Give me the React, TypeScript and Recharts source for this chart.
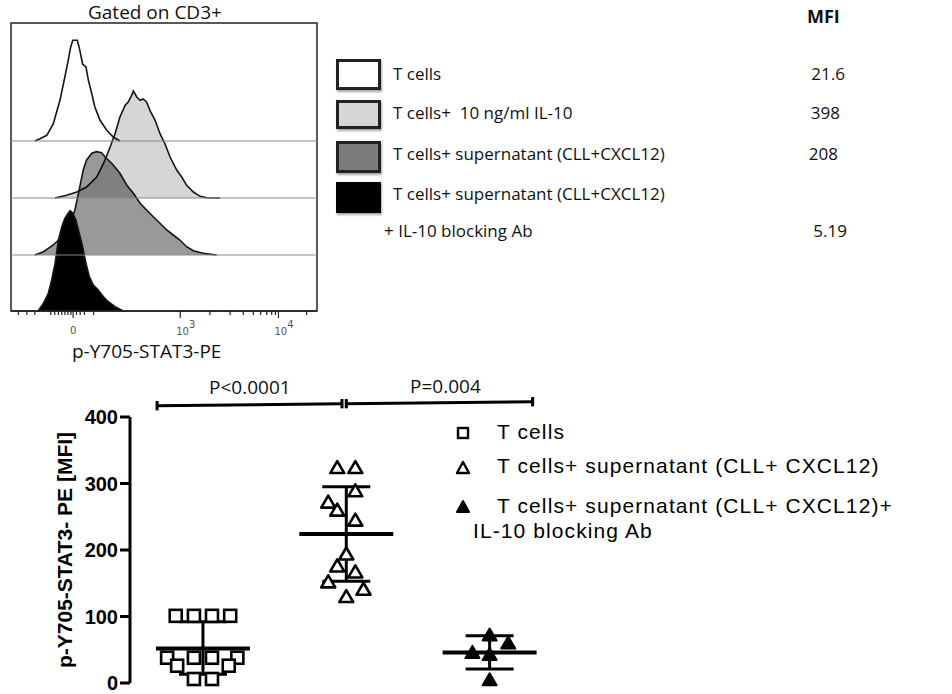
import React from 'react';
import {
  ComposedChart,
  Area,
  XAxis,
  YAxis,
  ReferenceLine,
  ReferenceArea,
  Scatter,
  ErrorBar,
} from 'recharts';

// ---------------- Histogram (top-left) data ----------------
const histTitle = 'Gated on CD3+';
const histAxisLabel = 'p-Y705-STAT3-PE';

// display channel (0..1000, biexponential scale) and relative event counts
const tCellsHistX = [78, 95, 117, 138, 160, 176, 187, 195, 202, 217, 225, 234, 245, 253, 264, 274, 291, 313, 334, 356];
const tCellsHistH = [0, 2.3, 5.7, 17, 40.7, 64, 80.7, 94, 100.7, 100.7, 90.7, 77, 74, 60.7, 47.3, 34, 20.7, 10.7, 4, 0];

const il10HistX = [144, 182, 215, 247, 280, 302, 324, 340, 356, 373, 383, 394, 400, 411, 422, 432, 443, 454, 471, 487, 503, 520, 542, 558, 574, 596, 618, 640, 683];
const il10HistH = [0, 2.7, 6, 11, 21, 34.3, 51, 64.3, 81, 92.7, 96, 102.7, 107, 101, 97.7, 99, 96, 87.7, 77.7, 64.3, 54.3, 41, 27.7, 21, 12.7, 6, 1.7, 0.3, 0];

const supHistX = [78, 106, 138, 166, 193, 209, 225, 236, 247, 264, 280, 296, 307, 318, 334, 356, 378, 400, 422, 443, 465, 487, 509, 530, 552, 574, 596, 628, 672];
const supHistH = [0, 3.3, 10, 18.3, 31.7, 45, 68.3, 85, 95, 101.7, 103.3, 102.3, 98.3, 95, 90, 81.7, 70, 61.7, 51.7, 45, 38.3, 31.7, 25, 20, 15, 8.3, 4.3, 1.7, 0];

const blockHistX = [89, 106, 122, 133, 144, 155, 166, 176, 187, 193, 202, 212, 223, 234, 245, 256, 269, 285, 302, 318, 340, 367];
const blockHistH = [0, 7.7, 17.7, 31, 47.7, 71, 84.3, 92.7, 97.7, 100.3, 97.7, 91, 77.7, 64.3, 47.7, 34.3, 26, 21, 14.3, 9.3, 4.3, 0];

const histMajorTicks = [203, 553, 874];
const histMajorLabels = ['0', '10|3', '10|4'];
const histMinorTicks = [24, 52, 78, 130, 143, 155, 166, 176, 186, 196, 214, 226, 240, 270, 650, 716, 759, 792, 816, 836, 852, 864, 966];

// legend (top right)
const histLegendLabels = [
  'T cells',
  'T cells+  10 ng/ml IL-10',
  'T cells+ supernatant (CLL+CXCL12)',
  'T cells+ supernatant (CLL+CXCL12)',
];
const histLegendExtra = '+ IL-10 blocking Ab';
const mfiTitle = 'MFI';
const mfiValues = ['21.6', '398', '208', '5.19'];

// ---------------- Scatter (bottom) data ----------------
const groupPositions = [1, 2, 3];
const tCellsValues = [101, 101, 101, 101, 38, 38, 38, 38, 26, 26, 6, 6];
const tCellsJitter = [-0.19, -0.063, 0.063, 0.19, -0.25, -0.063, 0.063, 0.24, -0.18, 0.18, -0.063, 0.063];
const supValues = [324, 324, 289, 272, 260, 245, 194, 176, 167, 152, 141, 130];
const supJitter = [-0.063, 0.063, 0.063, -0.126, -0.063, 0.063, 0, -0.063, 0.063, -0.126, 0.12, 0];
const blockValues = [72, 60, 46, 43, 5];
const blockJitter = [0, 0.13, -0.12, 0, 0];

const groupMeans = [52, 224, 46];
const groupSdLow = [13, 153, 21];
const groupSdHigh = [92, 295, 71];

const yTicks = [0, 100, 200, 300, 400];
const yAxisLabel = 'p-Y705-STAT3- PE [MFI]';

const sigLabels = ['P<0.0001', 'P=0.004'];
const sigFrom = [
  { x: 0.68, y: 417 },
  { x: 2.0, y: 420 },
];
const sigTo = [
  { x: 1.97, y: 420 },
  { x: 3.3, y: 423 },
];

const scatterLegend = [
  'T cells',
  'T cells+ supernatant (CLL+ CXCL12)',
  'T cells+ supernatant (CLL+ CXCL12)+',
];
const scatterLegendExtra = 'IL-10 blocking Ab';

// ---------------- build tables ----------------
const histSeries = [
  { key: 'tcells', xs: tCellsHistX, hs: tCellsHistH, base: 170, fill: '#ffffff', op: 1 },
  { key: 'il10', xs: il10HistX, hs: il10HistH, base: 113, fill: '#000000', op: 0.16 },
  { key: 'sup', xs: supHistX, hs: supHistH, base: 56, fill: '#000000', op: 0.4 },
  { key: 'block', xs: blockHistX, hs: blockHistH, base: 0, fill: '#000000', op: 1 },
];
const rowMap = new Map<number, any>();
histSeries.forEach((s) =>
  s.xs.forEach((x, i) => {
    const r = rowMap.get(x) || { u: x };
    r[s.key] = s.base + s.hs[i];
    rowMap.set(x, r);
  })
);
const histRows = Array.from(rowMap.values()).sort((a, b) => a.u - b.u);
const histTicks = [...histMinorTicks, ...histMajorTicks].sort((a, b) => a - b);

const tCellsPts = tCellsValues.map((v, i) => ({ x: groupPositions[0] + tCellsJitter[i], y: v }));
const supPts = supValues.map((v, i) => ({ x: groupPositions[1] + supJitter[i], y: v }));
const blockPts = blockValues.map((v, i) => ({ x: groupPositions[2] + blockJitter[i], y: v }));
const summaryPts = groupMeans.map((m, i) => ({
  x: groupPositions[i],
  y: m,
  err: [m - groupSdLow[i], groupSdHigh[i] - m],
}));

const SANS = '"Open Sans", "DejaVu Sans", sans-serif';
const ARIAL = '"Liberation Sans", Arial, sans-serif';

const HistTick = (props: any) => {
  const { x, y, payload } = props;
  const v = payload.value;
  const mi = histMajorTicks.indexOf(v);
  const major = mi >= 0;
  return (
    <g>
      <line x1={x} x2={x} y1={y} y2={y + (major ? 7 : 4)} stroke="#222" strokeWidth={1.2} />
      {major && histMajorLabels[mi] === '0' && (
        <text x={x} y={y + 23} textAnchor="middle" fontSize={10} fill="#555" fontFamily='"DejaVu Sans", sans-serif'>
          0
        </text>
      )}
      {major && histMajorLabels[mi] !== '0' && (
        <text x={x - 4} y={y + 24} textAnchor="start" fontSize={10} fill="#555" fontFamily='"DejaVu Sans", sans-serif'>
          {histMajorLabels[mi].split('|')[0]}
          <tspan dy={-7} fontSize={10}>
            {histMajorLabels[mi].split('|')[1]}
          </tspan>
        </text>
      )}
    </g>
  );
};

const SquareShape = (p: any) => (
  <rect x={p.cx - 6} y={p.cy - 6} width={12} height={12} fill="#fff" stroke="#000" strokeWidth={2.6} />
);
const OpenTri = (p: any) => (
  <path
    d={`M${p.cx},${p.cy - 6.5} L${p.cx + 7},${p.cy + 5.5} L${p.cx - 7},${p.cy + 5.5} Z`}
    fill="#fff"
    stroke="#000"
    strokeWidth={2.6}
    strokeLinejoin="round"
  />
);
const FilledTri = (p: any) => (
  <path
    d={`M${p.cx},${p.cy - 6.5} L${p.cx + 7},${p.cy + 5.5} L${p.cx - 7},${p.cy + 5.5} Z`}
    fill="#000"
    stroke="#000"
    strokeWidth={2}
    strokeLinejoin="round"
  />
);
const MeanShape = (p: any) => (
  <line x1={p.cx - 47} x2={p.cx + 47} y1={p.cy} y2={p.cy} stroke="#000" strokeWidth={4} />
);

const abs = (left: number, top: number, extra: any = {}) => ({
  position: 'absolute' as const,
  left,
  top,
  whiteSpace: 'pre' as const,
  lineHeight: 1,
  ...extra,
});

export default function App() {
  const legendBoxes = [
    { top: 59, h: 31, bg: '#ffffff', border: '3px solid #222' },
    { top: 100, h: 29, bg: '#d6d6d6', border: '3px solid #222' },
    { top: 141, h: 32, bg: '#7c7c7c', border: '3px solid #222' },
    { top: 182, h: 31, bg: '#000000', border: '3px solid #000' },
  ];
  const legendTextY = [76, 115, 156, 196];
  const mfiRight = [845, 840, 838, 847];
  const mfiY = [76, 115, 156, 233];

  return (
    <div style={{ position: 'absolute', left: 0, top: 0, width: 952, height: 694, background: '#fff', overflow: 'hidden' }}>
      {/* Histogram */}
      <div style={{ position: 'absolute', left: 0, top: 0 }}>
        <ComposedChart width={330} height={360} data={histRows} margin={{ top: 23, right: 13, bottom: 19, left: 11 }}>
          <XAxis
            dataKey="u"
            type="number"
            domain={[0, 1000]}
            ticks={histTicks}
            interval={0}
            tick={<HistTick />}
            tickLine={false}
            tickSize={0}
            tickMargin={0}
            height={30}
            axisLine={{ stroke: '#222', strokeWidth: 1.5 }}
          />
          <YAxis type="number" domain={[0, 288]} hide />
          {[170, 113, 56].map((b) => (
            <ReferenceLine key={b} y={b} stroke="#8a8a8a" strokeWidth={1} />
          ))}
          {histSeries.map((s) => (
            <Area
              key={s.key}
              dataKey={s.key}
              type="linear"
              baseValue={s.base}
              connectNulls
              stroke="#151515"
              strokeWidth={1.6}
              fill={s.fill}
              fillOpacity={s.op}
              dot={false}
              activeDot={false}
              isAnimationActive={false}
            />
          ))}
          <ReferenceArea x1={0} x2={1000} y1={0} y2={288} fill="none" stroke="#222" strokeWidth={1.5} />
        </ComposedChart>
      </div>
      <div style={abs(88, 3, { fontFamily: SANS, fontSize: 19, color: '#111' })}>{histTitle}</div>
      <div style={abs(72, 342, { fontFamily: SANS, fontSize: 19, color: '#111' })}>{histAxisLabel}</div>

      {/* Top-right legend */}
      <div style={abs(807, 7, { fontFamily: SANS, fontSize: 18, fontWeight: 700, color: '#111' })}>{mfiTitle}</div>
      {legendBoxes.map((b, i) => (
        <div
          key={i}
          style={{
            position: 'absolute',
            left: 336,
            top: b.top,
            width: 45,
            height: b.h,
            boxSizing: 'border-box',
            background: b.bg,
            border: b.border,
            boxShadow: '1px 2px 2px rgba(0,0,0,0.35)',
          }}
        />
      ))}
      {histLegendLabels.map((t, i) => (
        <div key={t + i} style={abs(393, legendTextY[i] - 11, { fontFamily: SANS, fontSize: 17, color: '#111' })}>
          {t}
        </div>
      ))}
      <div style={abs(384, 233 - 11, { fontFamily: SANS, fontSize: 17, color: '#111' })}>{histLegendExtra}</div>
      {mfiValues.map((v, i) => (
        <div
          key={v}
          style={{
            position: 'absolute',
            left: mfiRight[i] - 80,
            width: 80,
            textAlign: 'right',
            top: mfiY[i] - 11,
            fontFamily: SANS,
            fontSize: 17,
            lineHeight: 1,
            color: '#111',
          }}
        >
          {v}
        </div>
      ))}

      {/* Scatter dot plot */}
      <div style={{ position: 'absolute', left: 0, top: 370 }}>
        <ComposedChart width={580} height={324} margin={{ top: 47, right: 20, bottom: 11, left: 0 }}>
          <XAxis
            dataKey="x"
            type="number"
            domain={[0.491, 3.491]}
            allowDataOverflow
            tick={false}
            tickLine={false}
            height={0}
            axisLine={{ stroke: '#000', strokeWidth: 3 }}
          />
          <YAxis
            dataKey="y"
            type="number"
            domain={[0, 400]}
            ticks={yTicks}
            interval={0}
            width={130}
            tickSize={10}
            tickMargin={2}
            axisLine={{ stroke: '#000', strokeWidth: 3 }}
            tickLine={{ stroke: '#000', strokeWidth: 3 }}
            tick={{ fontSize: 20, fontWeight: 700, fill: '#000', fontFamily: ARIAL }}
            label={{
              value: yAxisLabel,
              angle: -90,
              position: 'center',
              dx: 0,
              style: { fontSize: 21, fontWeight: 700, fill: '#000', fontFamily: ARIAL },
            }}
          />
          <Scatter data={tCellsPts} dataKey="y" shape={SquareShape} isAnimationActive={false} />
          <Scatter data={supPts} dataKey="y" shape={OpenTri} isAnimationActive={false} />
          <Scatter data={blockPts} dataKey="y" shape={FilledTri} isAnimationActive={false} />
          <Scatter data={summaryPts} dataKey="y" shape={MeanShape} isAnimationActive={false}>
            <ErrorBar dataKey="err" direction="y" width={24} stroke="#000" strokeWidth={3} isAnimationActive={false} />
          </Scatter>
          {sigFrom.map((f, i) => (
            <ReferenceLine
              key={'s' + i}
              segment={[f, sigTo[i]]}
              stroke="#000"
              strokeWidth={3}
              ifOverflow="visible"
            />
          ))}
          {[...sigFrom, ...sigTo].map((p, i) => (
            <ReferenceLine
              key={'c' + i}
              segment={[
                { x: p.x, y: p.y - 7 },
                { x: p.x, y: p.y + 7 },
              ]}
              stroke="#000"
              strokeWidth={3}
              ifOverflow="visible"
            />
          ))}
        </ComposedChart>
      </div>
      <div style={abs(209, 378, { fontFamily: SANS, fontSize: 19, color: '#111' })}>{sigLabels[0]}</div>
      <div style={abs(410, 377, { fontFamily: SANS, fontSize: 19, color: '#111' })}>{sigLabels[1]}</div>

      {/* Scatter legend */}
      <svg style={{ position: 'absolute', left: 450, top: 420 }} width={30} height={100}>
        <rect x={8} y={8} width={10} height={10} fill="#fff" stroke="#000" strokeWidth={2.4} />
        <path d="M13,42 L19,53 L7,53 Z" fill="#fff" stroke="#000" strokeWidth={2.4} strokeLinejoin="round" />
        <path d="M13,81 L19,92 L7,92 Z" fill="#000" stroke="#000" strokeWidth={2} strokeLinejoin="round" />
      </svg>
      {scatterLegend.map((t, i) => (
        <div
          key={t}
          style={abs(497, [433, 467, 507][i] - 12, { fontFamily: ARIAL, fontSize: 21, letterSpacing: 1.1, color: '#000' })}
        >
          {t}
        </div>
      ))}
      <div style={abs(473, 532 - 12, { fontFamily: ARIAL, fontSize: 21, letterSpacing: 1.1, color: '#000' })}>
        {scatterLegendExtra}
      </div>
    </div>
  );
}
